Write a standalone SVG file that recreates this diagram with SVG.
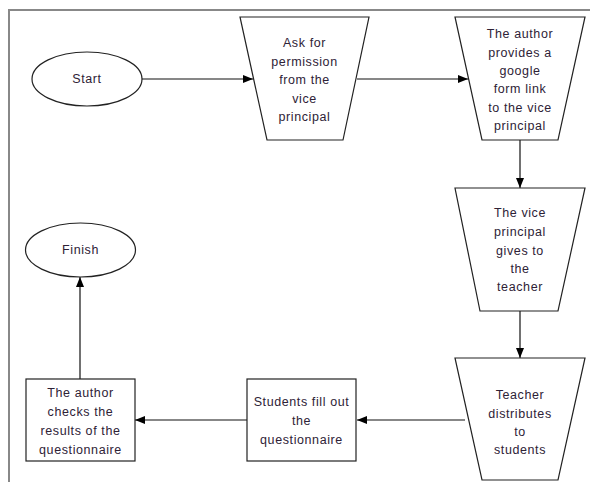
<svg xmlns="http://www.w3.org/2000/svg" width="590" height="482" viewBox="0 0 590 482">
<style>
.shape{fill:#fff;stroke:#222;stroke-width:1.2}
.lbl{font-family:"Liberation Sans",Arial,sans-serif;font-size:12.5px;letter-spacing:0.6px;fill:#2e2236;text-anchor:middle;dominant-baseline:central}
.conn{stroke:#111;stroke-width:1.2;fill:none;marker-end:url(#arr)}
.frame{stroke:#888;stroke-width:2;fill:none}
</style>
<defs>
<marker id="arr" viewBox="0 0 10 8" refX="10" refY="4" markerWidth="10" markerHeight="8" markerUnits="userSpaceOnUse" orient="auto">
<path d="M0,0 L10,4 L0,8 Z" fill="#000"/>
</marker>
</defs>
<rect width="590" height="482" fill="#fff"/>
<path class="frame" d="M9,482 L9,10 L590,10"/>
<g id="connectors">
<line class="conn" x1="142" y1="79" x2="253" y2="79"/>
<line class="conn" x1="357" y1="79" x2="468" y2="79"/>
<line class="conn" x1="520" y1="140" x2="520" y2="188"/>
<line class="conn" x1="520" y1="311" x2="520" y2="358"/>
<line class="conn" x1="465" y1="420" x2="357" y2="420"/>
<line class="conn" x1="247" y1="420" x2="135" y2="420"/>
<line class="conn" x1="80" y1="379" x2="80" y2="277"/>
</g>
<g id="start">
<ellipse class="shape" cx="87" cy="79" rx="55" ry="27"/>
<text class="lbl" x="87" y="79">Start</text>
</g>
<g id="ask">
<polygon class="shape" points="240,17 369,17 343,140 267,140"/>
<text class="lbl" x="304.5"><tspan x="304.5" y="43">Ask for</tspan><tspan x="304.5" y="61.5">permission</tspan><tspan x="304.5" y="80">from the</tspan><tspan x="304.5" y="98.5">vice</tspan><tspan x="304.5" y="117">principal</tspan></text>
</g>
<g id="provides">
<polygon class="shape" points="455,17 585,17 558,140 482,140"/>
<text class="lbl" x="520"><tspan x="520" y="34">The author</tspan><tspan x="520" y="52.5">provides a</tspan><tspan x="520" y="71">google</tspan><tspan x="520" y="89">form link</tspan><tspan x="520" y="107.5">to the vice</tspan><tspan x="520" y="126">principal</tspan></text>
</g>
<g id="vice">
<polygon class="shape" points="455,188 585,188 558,311 480,311"/>
<text class="lbl" x="520"><tspan x="520" y="213">The vice</tspan><tspan x="520" y="232">principal</tspan><tspan x="520" y="250.5">gives to</tspan><tspan x="520" y="269">the</tspan><tspan x="520" y="287">teacher</tspan></text>
</g>
<g id="teacher">
<polygon class="shape" points="455,358 585,358 558,480 482,480"/>
<text class="lbl" x="520"><tspan x="520" y="395">Teacher</tspan><tspan x="520" y="413.5">distributes</tspan><tspan x="520" y="432">to</tspan><tspan x="520" y="450">students</tspan></text>
</g>
<g id="students">
<rect class="shape" x="247" y="379" width="109" height="82"/>
<text class="lbl" x="301.5"><tspan x="301.5" y="402">Students fill out</tspan><tspan x="301.5" y="421">the</tspan><tspan x="301.5" y="440">questionnaire</tspan></text>
</g>
<g id="checks">
<rect class="shape" x="26" y="379" width="109" height="82"/>
<text class="lbl" x="80.5"><tspan x="80.5" y="393">The author</tspan><tspan x="80.5" y="412">checks the</tspan><tspan x="80.5" y="431">results of the</tspan><tspan x="80.5" y="449.5">questionnaire</tspan></text>
</g>
<g id="finish">
<ellipse class="shape" cx="80.5" cy="250" rx="55" ry="27"/>
<text class="lbl" x="80.5" y="250">Finish</text>
</g>
</svg>
